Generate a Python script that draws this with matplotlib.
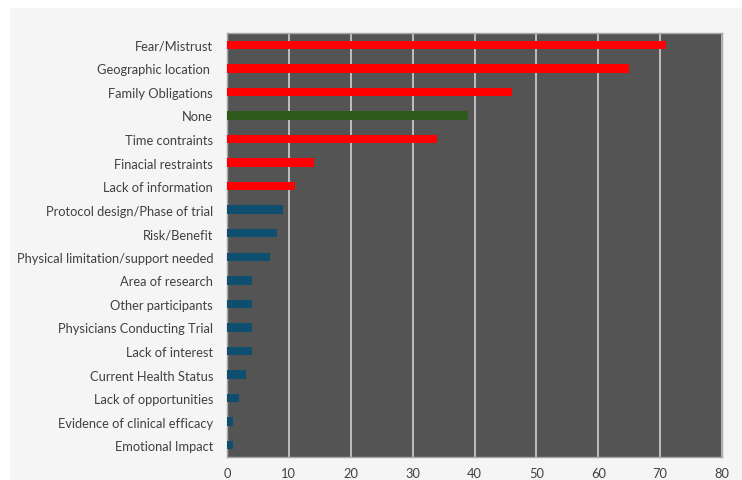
import matplotlib.pyplot as plt
from matplotlib.patches import Rectangle

plt.rcParams['font.family'] = ['Lato', 'DejaVu Sans']

reasons = [
    'Fear/Mistrust', 'Geographic location ', 'Family Obligations', 'None',
    'Time contraints', 'Finacial restraints', 'Lack of information',
    'Protocol design/Phase of trial', 'Risk/Benefit',
    'Physical limitation/support needed', 'Area of research',
    'Other participants', 'Physicians Conducting Trial', 'Lack of interest',
    'Current Health Status', 'Lack of opportunities',
    'Evidence of clinical efficacy', 'Emotional Impact',
]
counts = [71, 65, 46, 39, 34, 14, 11, 9, 8, 7, 4, 4, 4, 4, 3, 2, 1, 1]
groups = ['barrier'] * 3 + ['none'] + ['barrier'] * 3 + ['other'] * 11

palette = {'barrier': '#ff0000', 'none': '#2e5a1c', 'other': '#0e4e6e'}
colors = [palette[g] for g in groups]

fig = plt.figure(figsize=(7.42, 4.81), dpi=100, facecolor='white')
# light grey chart area behind everything
fig.patches.append(Rectangle((10 / 742, 0), 1, 1 - 9 / 481,
                             transform=fig.transFigure, facecolor='#f5f5f5',
                             edgecolor='none', zorder=-10))

ax = fig.add_axes([227 / 742, 1 - 458 / 481, 495 / 742, 424 / 481])
ax.set_facecolor('#545454')

y = list(range(len(reasons)))
ax.barh(y, counts, height=0.36, color=colors, zorder=3)

ax.set_xlim(0, 80)
ax.set_ylim(len(reasons) - 0.5, -0.5)
ax.set_xticks(range(0, 81, 10))
ax.set_yticks(y)
ax.set_yticklabels(reasons)
ax.tick_params(axis='both', length=0, labelsize=9.3, colors='#404040')
ax.tick_params(axis='y', pad=10)
ax.tick_params(axis='x', pad=7)

ax.grid(axis='x', color='#d0d0d0', linewidth=1.2, zorder=1)
for s in ax.spines.values():
    s.set_color('#a6a6a6')
    s.set_linewidth(1)

fig.savefig('out.png', dpi=100, facecolor=fig.get_facecolor())
